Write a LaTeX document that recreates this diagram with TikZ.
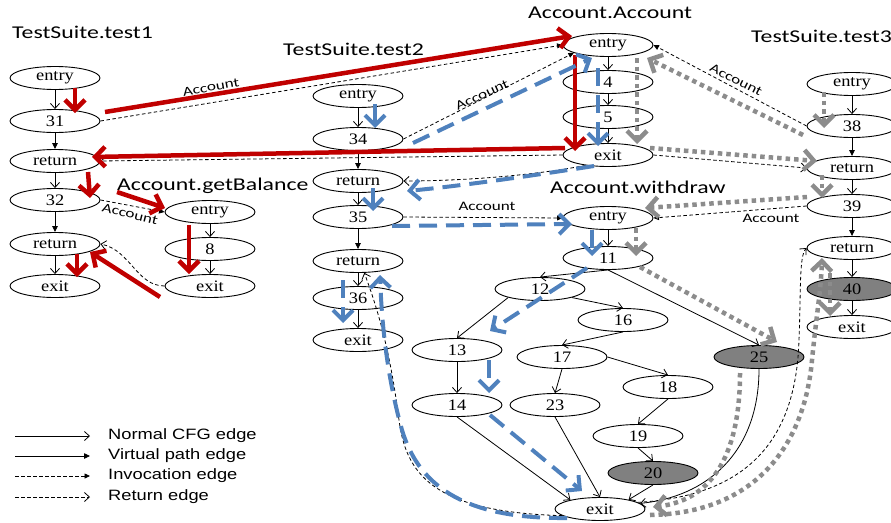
\documentclass[tikz,border=0pt]{standalone}
\usepackage{fontspec}
\usetikzlibrary{shapes.geometric,arrows.meta,calc}
\newfontfamily\nodefont[FakeStretch=1.15]{Liberation Serif}
\newfontfamily\lblfont[FakeStretch=1.32]{Carlito}
\newfontfamily\legfont[FakeStretch=1.22]{Liberation Sans}
\definecolor{pathred}{HTML}{C00000}
\definecolor{pathblue}{HTML}{4F81BD}
\definecolor{pathgray}{HTML}{8C8C8C}
\definecolor{nodegray}{HTML}{808080}
\tikzset{
 cfg/.style={ellipse, draw, line width=0.9pt, minimum width=90pt, minimum height=23pt, inner sep=0pt, font=\nodefont\fontsize{16}{18}\selectfont},
 hot/.style={cfg, fill=nodegray},
 normal/.style={line width=0.8pt, -{Straight Barb[length=5pt,width=9pt]}},
 virtual/.style={line width=0.8pt, -{Triangle[length=6pt,width=5.5pt]}},
 invoke/.style={line width=0.8pt, dash pattern=on 3.5pt off 2.5pt, -{Triangle[length=5.5pt,width=5pt]}},
 retedge/.style={line width=0.8pt, dash pattern=on 3.5pt off 2.5pt, -{Straight Barb[length=5pt,width=9pt]}},
 title/.style={anchor=base west, inner sep=0pt, font=\lblfont\fontsize{18}{20}\selectfont},
 acc/.style={inner sep=0pt, font=\lblfont\fontsize{13}{15}\selectfont},
 leg/.style={anchor=west, inner sep=0pt, font=\legfont\fontsize{15}{17}\selectfont},
 redp/.style={draw=pathred, line width=4.5pt, -{Straight Barb[length=10pt,width=20pt]}},
 bluep/.style={draw=pathblue, line width=4pt, dash pattern=on 18pt off 9pt, -{Straight Barb[length=10pt,width=20pt]}},
 grayp/.style={draw=pathgray, line width=4.5pt, dash pattern=on 4.5pt off 4pt, -{Straight Barb[length=10pt,width=20pt]}},
}
\begin{document}
\begin{tikzpicture}[x=1pt,y=-1pt]
\useasboundingbox (0,0) rectangle (891,522);
% titles
\node[title] (tt1) at (12,38) {TestSuite.test1};
\node[title] (tt2) at (283,55) {TestSuite.test2};
\node[title] (taa) at (528,18) {Account.Account};
\node[title] (tt3) at (751,42) {TestSuite.test3};
\node[title] (tgb) at (117,190) {Account.getBalance};
\node[title] (tw) at (550,193) {Account.withdraw};
% test1
\node[cfg] (t1en) at (55,78) {entry};
\node[cfg] (t131) at (55,121) {31};
\node[cfg] (t1r1) at (55,161) {return};
\node[cfg] (t132) at (55,200) {32};
\node[cfg] (t1r2) at (55,244) {return};
\node[cfg] (t1ex) at (55,286) {exit};
% getBalance
\node[cfg] (gben) at (210,212) {entry};
\node[cfg] (gb8) at (210,249) {8};
\node[cfg] (gbex) at (210,286) {exit};
% test2
\node[cfg] (t2en) at (358,96) {entry};
\node[cfg] (t234) at (358,139) {34};
\node[cfg] (t2r1) at (358,181) {return};
\node[cfg] (t235) at (358,217) {35};
\node[cfg] (t2r2) at (358,261) {return};
\node[cfg] (t236) at (358,298) {36};
\node[cfg] (t2ex) at (358,340) {exit};
% Account.Account
\node[cfg] (aaen) at (608,45) {entry};
\node[cfg] (aa4) at (608,82) {4};
\node[cfg] (aa5) at (608,117) {5};
\node[cfg] (aaex) at (608,155) {exit};
% withdraw
\node[cfg] (wen) at (608,218) {entry};
\node[cfg] (w11) at (608,258) {11};
\node[cfg] (w12) at (540,289) {12};
\node[cfg] (w16) at (623,320) {16};
\node[cfg] (w13) at (457,350) {13};
\node[cfg] (w17) at (562,357) {17};
\node[cfg] (w18) at (668,387) {18};
\node[hot] (w25) at (759,357) {25};
\node[cfg] (w14) at (457,405) {14};
\node[cfg] (w23) at (555,405) {23};
\node[cfg] (w19) at (638,436) {19};
\node[hot] (w20) at (653,473) {20};
\node[cfg] (wex) at (600,509) {exit};
% test3
\node[cfg] (t3en) at (852,84) {entry};
\node[cfg] (t338) at (852,126) {38};
\node[cfg] (t3r1) at (852,168) {return};
\node[cfg] (t339) at (852,206) {39};
\node[cfg] (t3r2) at (852,248) {return};
\node[hot] (t340) at (852,289) {40};
\node[cfg] (t3ex) at (852,327) {exit};
% CFG edges
\draw[normal] (t1en) -- (t131);
\draw[virtual] (t131) -- (t1r1);
\draw[normal] (t1r1) -- (t132);
\draw[virtual] (t132) -- (t1r2);
\draw[normal] (t1r2) -- (t1ex);
\draw[normal] (gben) -- (gb8);
\draw[normal] (gb8) -- (gbex);
\draw[normal] (t2en) -- (t234);
\draw[virtual] (t234) -- (t2r1);
\draw[normal] (t2r1) -- (t235);
\draw[virtual] (t235) -- (t2r2);
\draw[normal] (t2r2) -- (t236);
\draw[normal] (t236) -- (t2ex);
\draw[normal] (aaen) -- (aa4);
\draw[normal] (aa4) -- (aa5);
\draw[normal] (aa5) -- (aaex);
\draw[normal] (wen) -- (w11);
\draw[normal] (w11.south) -- (w12.north);
\draw[normal] (w11.south) -- (w25.north);
\draw[normal] (w12.195) -- (w13.north);
\draw[normal] (w12.-15) -- (w16.north);
\draw[normal] (w16.south) -- (w17.north);
\draw[normal] (w17.south) -- (w23.north);
\draw[normal] (w17.east) -- (w18.north);
\draw[normal] (w18.south) -- (w19.north);
\draw[normal] (w19.south) -- (w20.north);
\draw[normal] (w13) -- (w14);
\draw[normal] (w14.south) -- (wex.163);
\draw[normal] (w23.south) -- (wex.north);
\draw[normal] (w20.south) -- (wex.18);
\draw[normal] (w25.south) .. controls ($(w25.south)+(0,85)$) and ($(wex.east)+(60,-12)$) .. (wex.8);
\draw[normal] (t3en) -- (t338);
\draw[virtual] (t338) -- (t3r1);
\draw[normal] (t3r1) -- (t339);
\draw[virtual] (t339) -- (t3r2);
\draw[normal] (t3r2) -- (t340);
\draw[normal] (t340) -- (t3ex);
% invocation edges
\draw[invoke] (t131.east) -- (aaen.west);
\draw[invoke] (t132.east) -- (gben.west);
\draw[invoke] (t234.east) -- (aaen.193);
\draw[invoke] (t235.east) -- (wen.west);
\draw[invoke] (t338.west) -- (aaen.east);
\draw[invoke] (t339.west) -- (wen.east);
% return edges
\draw[retedge] (aaex.west) -- (t1r1.east);
\draw[retedge] (gbex.west) .. controls ($(gbex.west)+(-28,0)$) and ($(t1r2.east)+(30,6)$) .. (t1r2.east);
\draw[retedge] (aaex.205) .. controls (530,176) and (460,181) .. (t2r1.east);
\draw[retedge] (aaex.east) -- (t3r1.west);
\draw[retedge] (wex.190) .. controls (430,512) and (406,472) .. (399,420) .. controls (390,350) and (378,310) .. (t2r2.-62);
\draw[retedge] (wex.10) .. controls (748,496) and (796,440) .. (799,340) .. controls (801,290) and (799,256) .. (t3r2.west);
% labels
\node[acc, rotate=10] (la1) at (211,87) {Account};
\node[acc, rotate=-14] (la2) at (130,214) {Account};
\node[acc, rotate=25] (la3) at (482,95) {Account};
\node[acc] (la4) at (487,206) {Account};
\node[acc, rotate=-27] (la5) at (736,80) {Account};
\node[acc] (la6) at (771,218) {Account};
% legend
\coordinate (lga1) at (15,436); \coordinate (lgb1) at (90,436);
\coordinate (lga2) at (15,456); \coordinate (lgb2) at (90,456);
\coordinate (lga3) at (15,476); \coordinate (lgb3) at (90,476);
\coordinate (lga4) at (15,497); \coordinate (lgb4) at (90,497);
\draw[normal] (lga1) -- (lgb1);
\draw[virtual] (lga2) -- (lgb2);
\draw[invoke] (lga3) -- (lgb3);
\draw[retedge] (lga4) -- (lgb4);
\node[leg] (lgt1) at (108,436) {Normal CFG edge};
\node[leg] (lgt2) at (108,456) {Virtual path edge};
\node[leg] (lgt3) at (108,476) {Invocation edge};
\node[leg] (lgt4) at (108,497) {Return edge};
% red path (test1)
\draw[redp] ($(t1en)+(20,10)$) -- ($(t131)+(20,-8)$);
\draw[redp] ($(t131)+(50,-9)$) -- ($(aaen)+(-36,-9)$);
\draw[redp] ($(aaen)+(-33,10)$) -- ($(aaex)+(-33,-4)$);
\draw[redp] ($(aaex)+(-43,-7)$) -- ($(t1r1)+(37,-4)$);
\draw[redp] ($(t1r1)+(33,11)$) -- ($(t132)+(35,-2)$);
\draw[redp] ($(t132)+(62,-8)$) -- ($(gben)+(-45,-4)$);
\draw[redp] ($(gben)+(-21,13)$) -- ($(gbex)+(-21,-12)$);
\draw[redp] ($(gbex)+(-50,11)$) -- ($(t1r2)+(35,8)$);
\draw[redp] ($(t1r2)+(22,10)$) -- ($(t1ex)+(22,-9)$);
% blue path (test2)
\draw[bluep] ($(t2en)+(17,8)$) -- ($(t234)+(17,-11)$);
\draw[bluep] ($(t234)+(55,4)$) -- ($(aaen)+(-16,13)$);
\draw[bluep] ($(aaen)+(-10,23)$) -- ($(aaex)+(-10,-9)$);
\draw[bluep] ($(aaex)+(-14,11)$) .. controls (530,176) and (460,186) .. ($(t2r1)+(49,10)$);
\draw[bluep] ($(t2r1)+(15,7)$) -- ($(t235)+(15,-6)$);
\draw[bluep] ($(t235)+(34,9)$) -- ($(wen)+(-36,6)$);
\draw[bluep] ($(wen)+(-16,12)$) -- ($(w11)+(-16,-2)$);
\draw[bluep] ($(w11)+(-21,10)$) -- ($(w13)+(33,-19)$);
\draw[bluep] ($(w13)+(32,10)$) -- ($(w14)+(32,-12)$);
\draw[bluep] ($(w14)+(33,10)$) -- ($(wex)+(-18,-18)$);
\draw[bluep] ($(wex)+(-33,9)$) .. controls (470,519) and (420,490) .. (402,430) .. controls (388,380) and (382,330) .. ($(t2r2)+(22,14)$);
\draw[bluep] ($(t2r2)+(-15,19)$) -- ($(t2ex)+(-15,-17)$);
% gray path (test3)
\draw[grayp] ($(t3en)+(-28,8)$) -- ($(t338)+(-28,2)$);
\draw[grayp] ($(t338)+(-49,9)$) -- ($(aaen)+(39,13)$);
\draw[grayp] ($(aaen)+(29,13)$) -- ($(aaex)+(29,-11)$);
\draw[grayp] ($(aaex)+(42,-7)$) -- ($(t3r1)+(-35,-7)$);
\draw[grayp] ($(t3r1)+(-30,7)$) -- ($(t339)+(-30,-8)$);
\draw[grayp] ($(t339)+(-45,-9)$) -- ($(wen)+(37,-10)$);
\draw[grayp] ($(wen)+(28,10)$) -- ($(w11)+(28,-2)$);
\draw[grayp] ($(w11)+(32,9)$) -- ($(w25)+(18,-15)$);
\draw[grayp] ($(w25)+(-19,16)$) .. controls (740,450) and (715,500) .. ($(wex)+(53,-2)$);
\draw[grayp] ($(wex)+(50,6)$) .. controls (760,513) and (805,440) .. (812,360) .. controls (817,310) and (821,290) .. ($(t3r2)+(-30,10)$);
\draw[grayp] ($(t3r2)+(-22,25)$) -- ($(t3ex)+(-22,-11)$);
\end{tikzpicture}
\end{document}
